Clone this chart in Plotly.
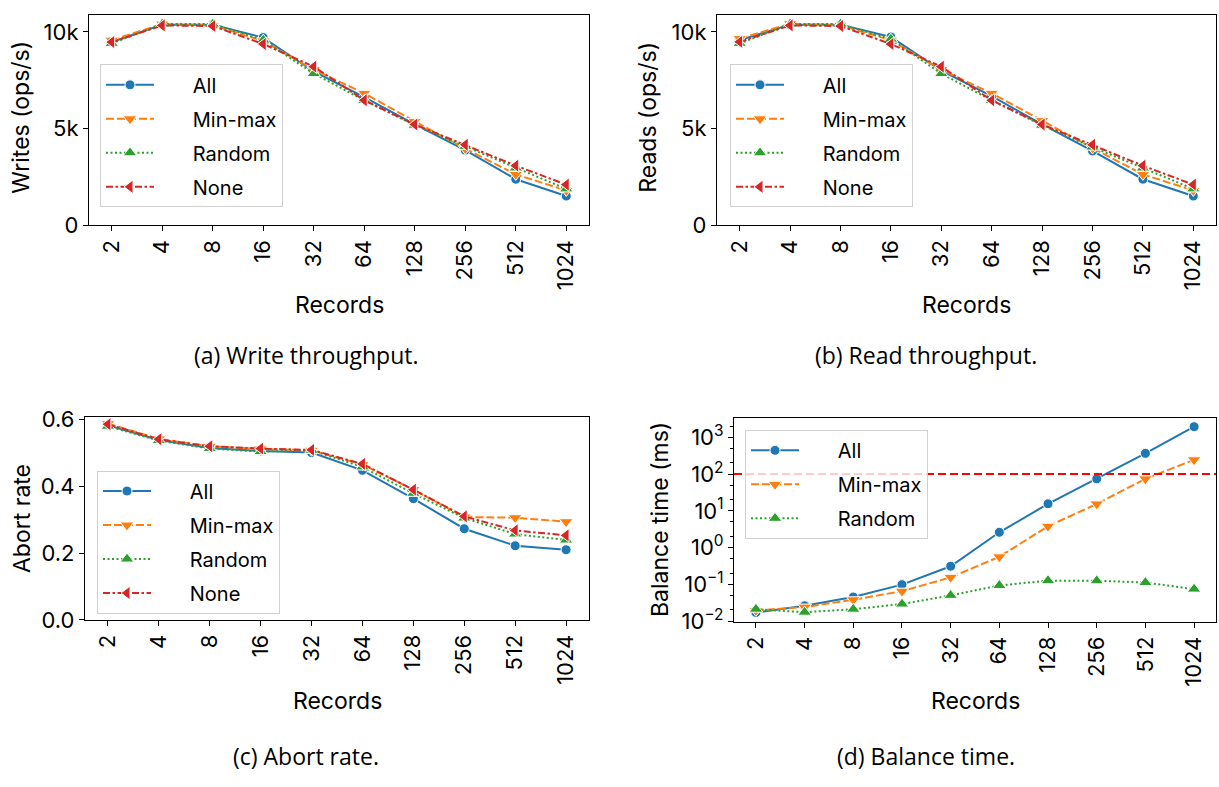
import plotly.graph_objects as go

# Records per transaction (categorical x axis)
records = ["2", "4", "8", "16", "32", "64", "128", "256", "512", "1024"]

# Write throughput (ops/s)
writes_all = [9470, 10370, 10370, 9700, 7950, 6620, 5210, 3880, 2380, 1510]
writes_minmax = [9570, 10400, 10330, 9530, 8040, 6820, 5370, 3960, 2630, 1800]
writes_random = [9400, 10400, 10400, 9570, 7840, 6460, 5170, 4080, 2960, 1880]
writes_none = [9470, 10330, 10300, 9370, 8200, 6460, 5210, 4160, 3080, 2100]

# Read throughput (ops/s)
reads_all = [9570, 10370, 10370, 9730, 7990, 6670, 5210, 3840, 2380, 1510]
reads_minmax = [9650, 10420, 10330, 9570, 8040, 6820, 5410, 3990, 2630, 1800]
reads_random = [9400, 10400, 10400, 9620, 7840, 6460, 5170, 4040, 2960, 1880]
reads_none = [9480, 10330, 10300, 9370, 8200, 6460, 5210, 4160, 3080, 2100]

# Abort rate
abort_all = [0.583, 0.539, 0.515, 0.506, 0.501, 0.448, 0.363, 0.273, 0.222, 0.210]
abort_minmax = [0.588, 0.542, 0.520, 0.512, 0.508, 0.465, 0.390, 0.308, 0.306, 0.294]
abort_random = [0.580, 0.537, 0.513, 0.504, 0.508, 0.458, 0.379, 0.305, 0.257, 0.239]
abort_none = [0.586, 0.541, 0.520, 0.513, 0.509, 0.467, 0.390, 0.310, 0.268, 0.253]

# Balance time (ms)
balance_all = [0.017, 0.026, 0.045, 0.098, 0.31, 2.6, 15.5, 74, 366, 1940]
balance_minmax = [0.0195, 0.024, 0.038, 0.065, 0.155, 0.56, 3.8, 15.4, 74, 245]
balance_random = [0.021, 0.0174, 0.021, 0.029, 0.050, 0.093, 0.126, 0.125, 0.112, 0.074]
balance_limit = 100

series_names = ["All", "Min-max", "Random", "None"]
colors = ["#1f77b4", "#ff7f0e", "#2ca02c", "#d62728"]
dashes = ["solid", "8px,3px", "2px,2.5px", "7px,2.5px,2.5px,2.5px"]
symbols = ["circle", "triangle-down", "triangle-up", "triangle-left"]
marker_sizes = [10, 12, 12, 12]

W, H = 1219, 787
FONT = "Inter"
CAPTION_FONT = "Open Sans"
LEGEND_PAD = "\u00a0" * 6  # space between the legend line sample and its label


def fx(px):
    return px / W


def fy(px):
    return 1 - px / H


fig = go.Figure()

# Panel boxes in pixels: (left, right, top, bottom)
panels = {
    "": (89, 589, 4.5, 221),
    "2": (717, 1216, 4.5, 221),
    "3": (85, 589, 419, 628),
    "4": (734, 1216, 420, 630),
}

panel_data = [
    ("", [writes_all, writes_minmax, writes_random, writes_none], "legend"),
    ("2", [reads_all, reads_minmax, reads_random, reads_none], "legend2"),
    ("3", [abort_all, abort_minmax, abort_random, abort_none], "legend3"),
    ("4", [balance_all, balance_minmax, balance_random], "legend4"),
]

for suffix, ys, leg in panel_data:
    for i, y in enumerate(ys):
        fig.add_trace(go.Scatter(
            x=records, y=y, name=LEGEND_PAD + series_names[i],
            mode="lines+markers",
            line=dict(color=colors[i], width=2, dash=dashes[i]),
            marker=dict(symbol=symbols[i], size=marker_sizes[i], color=colors[i],
                        line=dict(color="white", width=1)),
            xaxis="x" + suffix, yaxis="y" + suffix,
            legend=leg, legendgroup=leg + series_names[i],
        ))

axis_common = dict(
    showline=True, linecolor="black", linewidth=1.2, mirror=True,
    ticks="outside", ticklen=5, tickwidth=1.2, tickcolor="black",
    showgrid=False, zeroline=False,
    tickfont=dict(family=FONT, size=22, color="black"),
)

layout = {}
for suffix, (l, r, t, b) in panels.items():
    layout["xaxis" + suffix] = dict(
        axis_common, domain=[fx(l), fx(r)], type="category",
        range=[-0.45, 9.45], tickangle=-90,
        anchor="y" + suffix,
    )
    layout["yaxis" + suffix] = dict(
        axis_common, domain=[fy(b), fy(t)], anchor="x" + suffix,
    )

layout["yaxis"].update(range=[0, 10850], tickvals=[0, 5000, 10000],
                       ticktext=["0", "5k", "10k"])
layout["yaxis2"].update(range=[0, 10850], tickvals=[0, 5000, 10000],
                        ticktext=["0", "5k", "10k"])
layout["yaxis3"].update(range=[0, 0.607], tickvals=[0, 0.2, 0.4, 0.6],
                        ticktext=["0.0", "0.2", "0.4", "0.6"])
layout["yaxis4"].update(
    type="log", range=[-2.02, 3.52],
    tickvals=[0.01, 0.1, 1, 10, 100, 1000],
    ticktext=["10<sup>−2</sup>", "10<sup>−1</sup>", "10<sup>0</sup>",
              "10<sup>1</sup>", "10<sup>2</sup>", "10<sup>3</sup>"],
    minor=dict(ticks="outside", ticklen=3, tickcolor="black", tickwidth=0.8),
)

legend_common = dict(
    bgcolor="rgba(255,255,255,0.8)", bordercolor="#d0d0d0", borderwidth=1,
    font=dict(family=FONT, size=20, color="black"),
    itemwidth=48, tracegroupgap=5, traceorder="grouped",
    xanchor="left", yanchor="top",
)
layout["legend"] = dict(legend_common, x=fx(100), y=fy(55))
layout["legend2"] = dict(legend_common, x=fx(730), y=fy(55))
layout["legend3"] = dict(legend_common, x=fx(97), y=fy(474))
layout["legend4"] = dict(legend_common, x=fx(745), y=fy(432))

fig.update_layout(
    width=W, height=H, margin=dict(l=0, r=0, t=0, b=0),
    paper_bgcolor="white", plot_bgcolor="white", showlegend=True,
    **layout,
)

# 100 ms reference line on the balance-time panel
fig.add_shape(type="line", xref="x4 domain", yref="y4", x0=0, x1=1,
              y0=balance_limit, y1=balance_limit,
              line=dict(color="red", width=2, dash="8px,4px"))

# Axis titles
label_font = dict(family=FONT, size=23, color="black")
for cx, cy in [(339, 303), (966, 303), (337, 712), (975, 712)]:
    fig.add_annotation(text="Records", x=fx(cx), y=fy(cy), xref="paper",
                       yref="paper", xanchor="center", yanchor="middle",
                       showarrow=False, font=label_font)
for text, cx, cy in [("Writes (ops/s)", 21, 110), ("Reads (ops/s)", 648, 110),
                     ("Abort rate", 22, 524), ("Balance time (ms)", 660, 525)]:
    fig.add_annotation(text=text, x=fx(cx), y=fy(cy), xref="paper",
                       yref="paper", xanchor="center", yanchor="middle",
                       showarrow=False, textangle=-90, font=label_font)

# Sub-figure captions
cap_font = dict(family=CAPTION_FONT, size=23, color="black")
for text, cx, cy in [("(a) Write throughput.", 306, 355),
                     ("(b) Read throughput.", 926, 355),
                     ("(c) Abort rate.", 306, 768),
                     ("(d) Balance time.", 926, 768)]:
    fig.add_annotation(text=text, x=fx(cx), y=fy(cy), xref="paper",
                       yref="paper", xanchor="center", yanchor="middle",
                       showarrow=False, font=cap_font)

fig.write_html("out.html")
